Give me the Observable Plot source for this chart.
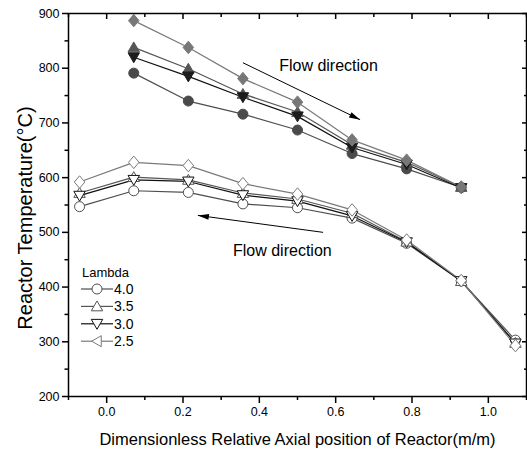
<!DOCTYPE html>
<html>
<head>
<meta charset="utf-8">
<script src="https://cdn.jsdelivr.net/npm/d3@7"></script>
<script src="https://cdn.jsdelivr.net/npm/@observablehq/plot@0.6"></script>
<style>
  body { margin: 0; background: #fff; }
  #wrap { position: relative; width: 527px; height: 458px; font-family: "Liberation Sans", Arial, sans-serif; }
  #legend { position: absolute; left: 0; top: 0; pointer-events: none; }
</style>
</head>
<body>
<div id="wrap"></div>
<script>
// ---- data ----
const lambdas = ["4.0", "3.5", "3.0", "2.5"];
const xUpper = [0.071, 0.214, 0.357, 0.5, 0.643, 0.786, 0.929];
const xLower = [-0.071, 0.071, 0.214, 0.357, 0.5, 0.643, 0.786, 0.929, 1.071];
const upper40 = [791, 740, 716, 687, 644, 616, 582];
const upper35 = [838, 799, 753, 720, 660, 628, 583];
const upper30 = [820, 785, 747, 712, 655, 624, 581];
const upper25 = [887, 838, 781, 738, 669, 632, 583];
const lower40 = [547, 576, 573, 552, 545, 526, 480, 411, 303];
const lower35 = [572, 601, 596, 572, 561, 535, 483, 411, 298];
const lower30 = [567, 596, 593, 568, 557, 530, 482, 411, 297];
const lower25 = [592, 628, 622, 589, 570, 541, 486, 412, 293];
const xMajor = [0, 0.2, 0.4, 0.6, 0.8, 1.0];
const xMinor = [-0.1, 0.1, 0.3, 0.5, 0.7, 0.9, 1.1];
const yMajor = [200, 300, 400, 500, 600, 700, 800, 900];
const yMinor = [250, 350, 450, 550, 650, 750, 850];
const xTitle = "Dimensionless Relative Axial position of Reactor(m/m)";
const yTitle = "Reactor Temperature(°C)";
const legendTitle = "Lambda";
const flowLabel = "Flow direction";
// annotation anchors (data units)
const arrows = [
  {x1: 0.357, y1: 810, x2: 0.664, y2: 706},
  {x1: 0.567, y1: 500, x2: 0.239, y2: 531}
];
const flowLabels = [{x: 0.452, y: 805}, {x: 0.331, y: 467}];

// ---- symbols ----
const rOf = size => Math.sqrt(size / Math.PI);
const triUp = {draw(c, s) { const r = rOf(s); c.moveTo(0, -1.05 * r); c.lineTo(1.1 * r, 0.85 * r); c.lineTo(-1.1 * r, 0.85 * r); c.closePath(); }};
const triDown = {draw(c, s) { const r = rOf(s); c.moveTo(0, 1.05 * r); c.lineTo(1.1 * r, -0.85 * r); c.lineTo(-1.1 * r, -0.85 * r); c.closePath(); }};
const triLeft = {draw(c, s) { const r = rOf(s); c.moveTo(-1.05 * r, 0); c.lineTo(0.85 * r, -1.1 * r); c.lineTo(0.85 * r, 1.1 * r); c.closePath(); }};
const diam = {draw(c, s) { const r = rOf(s); c.moveTo(0, -1.25 * r); c.lineTo(1.05 * r, 0); c.lineTo(0, 1.25 * r); c.lineTo(-1.05 * r, 0); c.closePath(); }};
const circ = {draw(c, s) { const r = rOf(s); c.moveTo(r, 0); c.arc(0, 0, r, 0, 2 * Math.PI); c.closePath(); }};
const head = {draw(c) { c.moveTo(0, 0); c.lineTo(-11, -3); c.lineTo(-11, 3); c.closePath(); }};

const series = [
  {name: lambdas[0], up: upper40, low: lower40, sym: circ, legSym: circ, fill: "#4a4a4a", line: "#4e4e4e", r: 5},
  {name: lambdas[1], up: upper35, low: lower35, sym: triUp, legSym: triUp, fill: "#555555", line: "#555555", r: 5.2},
  {name: lambdas[2], up: upper30, low: lower30, sym: triDown, legSym: triDown, fill: "#1c1c1c", line: "#111111", r: 5.2},
  {name: lambdas[3], up: upper25, low: lower25, sym: diam, legSym: triLeft, fill: "#777777", line: "#7a7a7a", r: 5}
];

const font = "Liberation Sans, Arial, sans-serif";
const W = 527, H = 458, mL = 68, mR = 1, mT = 13, mB = 62;
const xDomain = [-0.1, 1.1], yDomain = [200, 900];
// screen-space scales to orient the filled arrowheads
const sx = d3.scaleLinear(xDomain, [mL, W - mR]);
const sy = d3.scaleLinear(yDomain, [H - mB, mT]);
const arrowsA = arrows.map(a => ({...a, ang: Math.atan2(sy(a.y2) - sy(a.y1), sx(a.x2) - sx(a.x1)) * 180 / Math.PI}));

const marks = [];
for (const s of series) {
  const up = xUpper.map((x, i) => ({x, y: s.up[i]}));
  const low = xLower.map((x, i) => ({x, y: s.low[i]}));
  marks.push(Plot.line(up, {x: "x", y: "y", stroke: s.line, strokeWidth: 1.2}));
  marks.push(Plot.line(low, {x: "x", y: "y", stroke: s.line, strokeWidth: 1.2}));
}
for (const s of series) {
  const up = xUpper.map((x, i) => ({x, y: s.up[i]}));
  const low = xLower.map((x, i) => ({x, y: s.low[i]}));
  marks.push(Plot.dot(up, {x: "x", y: "y", symbol: () => s.sym, r: s.r, fill: s.fill, stroke: s.fill, strokeWidth: 1}));
  marks.push(Plot.dot(low, {x: "x", y: "y", symbol: () => s.sym, r: s.r, fill: "white", stroke: s.line, strokeWidth: 1}));
}

const chart = Plot.plot({
  width: W, height: H,
  marginLeft: mL, marginRight: mR, marginTop: mT, marginBottom: mB,
  style: {fontFamily: font, background: "white", color: "black"},
  x: {domain: xDomain},
  y: {domain: yDomain},
  marks: [
    ...marks,
    Plot.link(arrowsA, {x1: "x1", y1: "y1", x2: "x2", y2: "y2", stroke: "black", strokeWidth: 1}),
    Plot.dot(arrowsA, {x: "x2", y: "y2", symbol: () => head, rotate: "ang", fill: "black", stroke: "none"}),
    Plot.text(flowLabels, {x: "x", y: "y", text: () => flowLabel, textAnchor: "start", fontSize: 16, fill: "black"}),
    Plot.frame({stroke: "black", strokeWidth: 1.5}),
    Plot.axisX({ticks: xMajor, tickSize: 7, tickPadding: 4, tickFormat: d3.format(".1f"), fontSize: 12.5, label: null, strokeWidth: 1.5}),
    Plot.axisX({ticks: xMinor, tickSize: 4, tickFormat: () => "", label: null, strokeWidth: 1.5}),
    Plot.axisX({anchor: "top", ticks: xMajor, tickSize: -5, tickFormat: () => "", label: null, strokeWidth: 1.5}),
    Plot.axisX({anchor: "top", ticks: xMinor, tickSize: -3, tickFormat: () => "", label: null, strokeWidth: 1.5}),
    Plot.axisY({ticks: yMajor, tickSize: 6, tickPadding: 3, fontSize: 12.5, label: null, strokeWidth: 1.5}),
    Plot.axisY({ticks: yMinor, tickSize: 3.5, tickFormat: () => "", label: null, strokeWidth: 1.5}),
    Plot.axisY({anchor: "right", ticks: yMajor, tickSize: -5, tickFormat: () => "", label: null, strokeWidth: 1.5}),
    Plot.axisY({anchor: "right", ticks: yMinor, tickSize: -3, tickFormat: () => "", label: null, strokeWidth: 1.5}),
    Plot.text([xTitle], {frameAnchor: "bottom", dy: 43, text: d => d, fontSize: 16.5, lineAnchor: "middle", fill: "black"}),
    Plot.text([yTitle], {frameAnchor: "left", textAnchor: "middle", dx: -43, dy: 13, rotate: -90, text: d => d, fontSize: 20, lineAnchor: "middle", fill: "black"})
  ]
});
document.getElementById("wrap").appendChild(chart);

// ---- legend ----
const leg = d3.select("#wrap").append("svg").attr("id", "legend").attr("width", W).attr("height", H);
leg.append("text").attr("x", 82).attr("y", 272).attr("dy", "0.35em")
  .attr("font-size", 13).attr("font-family", font).text(legendTitle);
series.forEach((s, i) => {
  const y = 289 + i * 17.4;
  const g = leg.append("g");
  g.append("line").attr("x1", 81).attr("x2", 113).attr("y1", y).attr("y2", y).attr("stroke", s.line).attr("stroke-width", 1.2);
  g.append("path").attr("transform", `translate(97,${y})`)
    .attr("d", d3.symbol(s.legSym, Math.PI * s.r * s.r)())
    .attr("fill", "white").attr("stroke", s.line).attr("stroke-width", 1);
  g.append("text").attr("x", 114).attr("y", y).attr("dy", "0.35em")
    .attr("font-size", 14).attr("font-family", font).text(s.name);
});
</script>
</body>
</html>
